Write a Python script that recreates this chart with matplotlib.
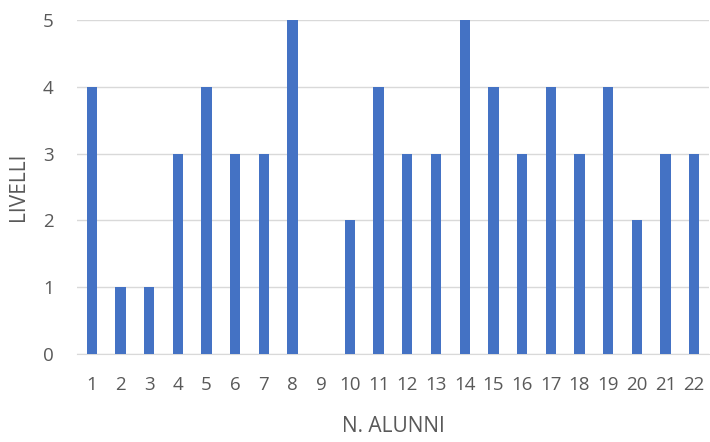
import matplotlib.pyplot as plt

alunni = list(range(1, 23))
livelli = [4, 1, 1, 3, 4, 3, 3, 5, 0, 2, 4, 3, 3, 5, 4, 3, 4, 3, 4, 2, 3, 3]

plt.rcParams['font.family'] = ['Open Sans', 'DejaVu Sans']

fig = plt.figure(figsize=(7.1, 4.42), dpi=100)
ax = fig.add_axes([0.109, 0.199, 0.889, 0.7557])

ax.bar(alunni, livelli, width=0.36, color='#4472C4', zorder=3)
ax.set_xlim(0.5, 22.5)
ax.set_ylim(0, 5)
ax.set_xticks(alunni)
ax.set_yticks(range(0, 6))
ax.grid(axis='y', color='#D9D9D9', linewidth=1, zorder=0)
for s in ['top', 'right', 'left']:
    ax.spines[s].set_visible(False)
ax.spines['bottom'].set_color('#D9D9D9')
ax.tick_params(length=0, labelsize=13.5, colors='#595959')
ax.tick_params(axis='x', pad=16)
ax.tick_params(axis='y', pad=17)
ax.set_xlabel('N. ALUNNI', fontsize=15, color='#595959', labelpad=16)
ax.set_ylabel('LIVELLI', fontsize=15, color='#595959', labelpad=10)

plt.savefig('out.png', dpi=100)
plt.close()
